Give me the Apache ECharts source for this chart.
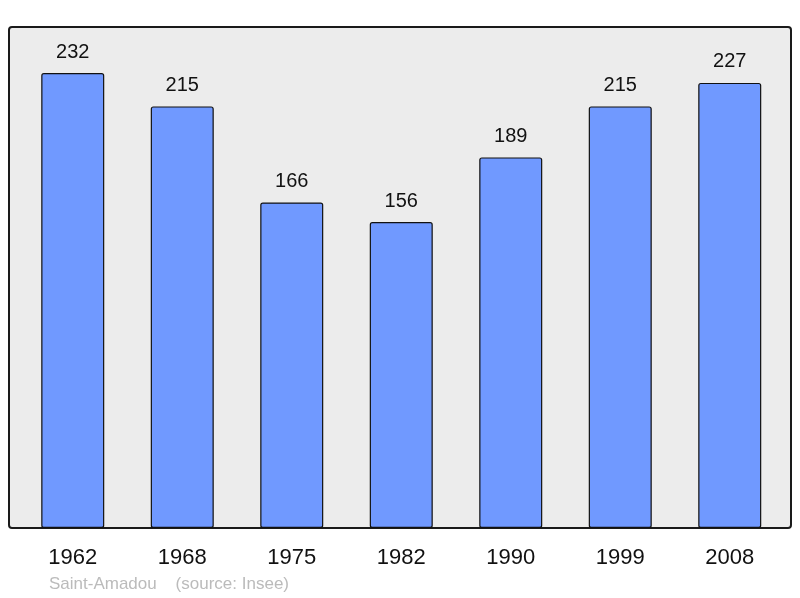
<!DOCTYPE html>
<html><head><meta charset="utf-8">
<script src="https://cdn.jsdelivr.net/npm/echarts@6/dist/echarts.min.js"></script>
<style>html,body{margin:0;padding:0;background:#fff}#c{width:800px;height:598px}</style>
</head><body><div id="c"></div>
<script>
const years = ['1962','1968','1975','1982','1990','1999','2008'];
const population = [232,215,166,156,189,215,227];
const footer = 'Saint-Amadou    (source: Insee)';

const chart = echarts.init(document.getElementById('c'), null, {renderer:'canvas'});
chart.setOption({
  animation:false,
  backgroundColor:'#ffffff',
  graphic:[
    {type:'rect', shape:{x:9,y:27,width:782,height:501,r:3}, style:{fill:'#ececec',stroke:'#1a1a1a',lineWidth:2}, z:-1},
    {type:'text', left:49, top:576, style:{text:footer, fill:'#bbbbbb', font:'17px "Liberation Sans", Arial, sans-serif'}}
  ],
  grid:{left:18, right:15.5, top:27, bottom:70},
  xAxis:{type:'category', data:years,
    axisLine:{show:false}, axisTick:{show:false},
    axisLabel:{color:'#111', fontSize:22, fontFamily:'"Liberation Sans", Arial, sans-serif', margin:19}},
  yAxis:{type:'value', min:0, max:255.5, show:false, splitLine:{show:false}},
  series:[{type:'bar', data:population, barWidth:63,
    itemStyle:{color:'#7099ff', borderColor:'#111', borderWidth:1.2, borderRadius:2},
    label:{show:true, position:'top', distance:11, color:'#111', fontSize:20, fontFamily:'"Liberation Sans", Arial, sans-serif'}}]
});
</script></body></html>
